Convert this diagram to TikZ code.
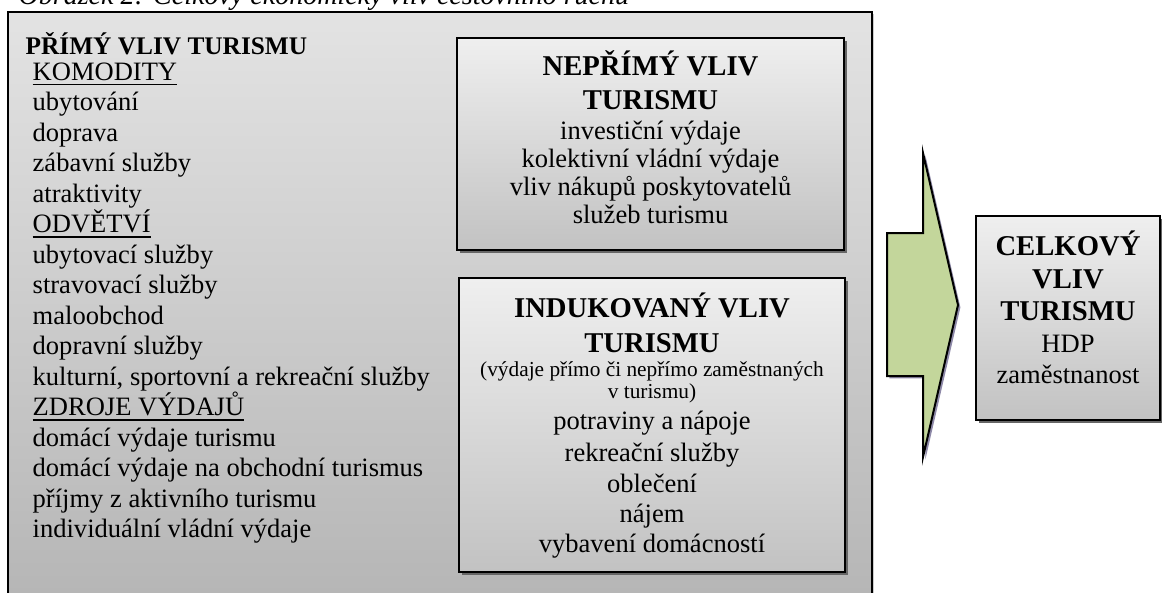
\documentclass[tikz,border=0pt]{standalone}
\usepackage{fontspec}
\setmainfont{Liberation Serif}
\usetikzlibrary{shadows}
\definecolor{boxtop}{HTML}{EFEFEF}
\definecolor{boxbot}{HTML}{C2C2C2}
\definecolor{sipka}{HTML}{C3D69B}
\definecolor{stinsipky}{HTML}{8E89A8}
\newcommand{\podtrzeni}[1]{\sbox0{#1}\rlap{\rule[-3.8pt]{\wd0}{1.1pt}}\usebox0}
\tikzset{
  ramec/.style={draw=black, line width=1.5pt, top color=boxtop, bottom color=boxbot},
  stin/.style={drop shadow={shadow xshift=2.2pt, shadow yshift=-2.2pt, fill=black!60, opacity=1}},
  nadpis/.style={font=\fontsize{21.5}{26}\selectfont\bfseries, anchor=base},
  radek/.style={font=\fontsize{19.9}{24}\selectfont},
  maly/.style={font=\fontsize{16}{19}\selectfont, anchor=base}
}
\begin{document}
\begin{tikzpicture}[x=0.75pt, y=-0.75pt]
\useasboundingbox (0,0) rectangle (1162,592);
\node[anchor=base west, font=\fontsize{21}{25}\selectfont\itshape] (popisek) at (14,5) {Obrázek 2: Celkový ekonomický vliv cestovního ruchu};
% velky ramec
\path[ramec, line width=1.1pt, top color=boxtop!95!black, bottom color=boxbot!92!black,
  drop shadow={shadow xshift=1.2pt, shadow yshift=-1.2pt, fill=black!20, opacity=1}] (8,12) rectangle (872,640);
\node[anchor=base west, font=\fontsize{19}{24}\selectfont\bfseries] (primy) at (21,55) {PŘÍMÝ VLIV TURISMU};
\foreach \t [count=\i from 0] in {\podtrzeni{KOMODITY}, ubytování, doprava, zábavní služby, atraktivity,
  \podtrzeni{ODVĚTVÍ}, ubytovací služby, stravovací služby, maloobchod, dopravní služby,
  {kulturní, sportovní a rekreační služby}, \podtrzeni{ZDROJE VÝDAJŮ}, domácí výdaje turismu,
  domácí výdaje na obchodní turismus, příjmy z aktivního turismu, individuální vládní výdaje}
  \node[radek, anchor=base west] (primy\i) at (28,80+30.5*\i) {\t};
% neprimy vliv
\path[ramec, stin] (457,38) rectangle (844,250);
\foreach \y/\t [count=\i] in {75/NEPŘÍMÝ VLIV, 109/TURISMU}
  \node[nadpis] (neprimyN\i) at (650.5,\y) {\t};
\foreach \y/\t [count=\i] in {139/investiční výdaje, 167/kolektivní vládní výdaje,
  195/vliv nákupů poskytovatelů, 223/služeb turismu}
  \node[radek, anchor=base] (neprimy\i) at (650.5,\y) {\t};
% indukovany vliv
\path[ramec, stin] (459,278) rectangle (845,572);
\foreach \y/\t [count=\i] in {317/INDUKOVANÝ VLIV, 352/TURISMU}
  \node[nadpis] (indukN\i) at (652,\y) {\t};
\foreach \y/\t [count=\i] in {376/(výdaje přímo či nepřímo zaměstnaných, 398/v turismu)}
  \node[maly] (indukM\i) at (652,\y) {\t};
\foreach \y/\t [count=\i] in {429/potraviny a nápoje, 461/rekreační služby, 492/oblečení,
  522/nájem, 552/vybavení domácností}
  \node[radek, anchor=base] (induk\i) at (652,\y) {\t};
% sipka
\draw[line width=1.5pt, line join=miter, fill=sipka,
  drop shadow={shadow xshift=1.8pt, shadow yshift=-1.8pt, fill=stinsipky, opacity=1}]
  (887,233) -- (923,233) -- (923,153) -- (958,305) -- (923,457) -- (923,376) -- (887,376) -- cycle;
% celkovy vliv
\path[ramec, stin] (976,216) rectangle (1160,420);
\foreach \y/\t [count=\i] in {255/CELKOVÝ, 288/VLIV, 320/TURISMU}
  \node[nadpis] (celkN\i) at (1068,\y) {\t};
\foreach \y/\t [count=\i] in {352/HDP, 383/zaměstnanost}
  \node[radek, anchor=base] (celk\i) at (1068,\y) {\t};
\end{tikzpicture}
\end{document}
